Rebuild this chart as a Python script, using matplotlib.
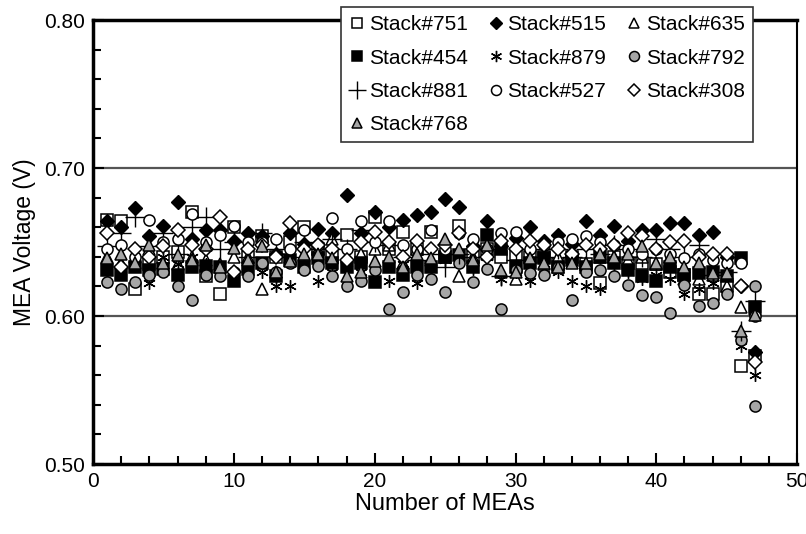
import numpy as np
import matplotlib
matplotlib.use('Agg')
import matplotlib.pyplot as plt
from matplotlib.ticker import MultipleLocator, FormatStrFormatter

plt.rcParams['font.family'] = ['Liberation Sans', 'DejaVu Sans']

# MEA number along the stack
mea = list(range(1, 48))

# cell voltages (V)
v751 = [0.665, 0.664, 0.618, 0.635, 0.640, 0.643, 0.670, 0.627, 0.615, 0.660,
        0.640, 0.654, 0.640, 0.650, 0.660, 0.645, 0.640, 0.655, 0.640, 0.667,
        0.645, 0.657, 0.645, 0.657, 0.640, 0.661, 0.640, 0.645, 0.640, 0.642,
        0.640, 0.640, 0.635, 0.640, 0.635, 0.622, 0.640, 0.636, 0.636, 0.635,
        0.630, 0.628, 0.615, 0.615, 0.620, 0.566, 0.573]
v515 = [0.664, 0.660, 0.673, 0.654, 0.661, 0.677, 0.652, 0.658, 0.658, 0.651,
        0.656, 0.654, 0.642, 0.656, 0.649, 0.659, 0.656, 0.682, 0.656, 0.670,
        0.660, 0.665, 0.668, 0.670, 0.679, 0.674, 0.647, 0.664, 0.647, 0.653,
        0.660, 0.651, 0.655, 0.649, 0.664, 0.655, 0.661, 0.651, 0.658, 0.658,
        0.663, 0.663, 0.655, 0.657, 0.640, 0.620, 0.576]
v635 = [0.640, 0.636, 0.640, 0.645, 0.636, 0.635, 0.640, 0.638, 0.635, 0.640,
        0.640, 0.618, 0.630, 0.640, 0.641, 0.645, 0.652, 0.640, 0.642, 0.645,
        0.648, 0.636, 0.645, 0.638, 0.645, 0.627, 0.640, 0.642, 0.630, 0.625,
        0.640, 0.635, 0.640, 0.640, 0.635, 0.640, 0.640, 0.638, 0.640, 0.635,
        0.640, 0.625, 0.625, 0.628, 0.620, 0.606, 0.605]
v454 = [0.631, 0.628, 0.633, 0.631, 0.632, 0.628, 0.633, 0.634, 0.633, 0.624,
        0.632, 0.636, 0.627, 0.638, 0.633, 0.639, 0.636, 0.633, 0.636, 0.623,
        0.633, 0.628, 0.633, 0.633, 0.640, 0.641, 0.633, 0.655, 0.645, 0.633,
        0.636, 0.639, 0.633, 0.638, 0.633, 0.640, 0.636, 0.631, 0.627, 0.624,
        0.633, 0.628, 0.629, 0.630, 0.627, 0.639, 0.606]
v879 = [0.630, 0.632, 0.635, 0.622, 0.640, 0.635, 0.640, 0.635, 0.632, 0.630,
        0.635, 0.630, 0.620, 0.620, 0.635, 0.624, 0.630, 0.636, 0.630, 0.632,
        0.624, 0.635, 0.622, 0.632, 0.638, 0.640, 0.632, 0.640, 0.625, 0.630,
        0.624, 0.632, 0.630, 0.624, 0.620, 0.618, 0.635, 0.630, 0.625, 0.628,
        0.625, 0.615, 0.618, 0.622, 0.628, 0.580, 0.560]
v792 = [0.623, 0.618, 0.623, 0.628, 0.630, 0.620, 0.611, 0.628, 0.627, 0.630,
        0.627, 0.636, 0.630, 0.636, 0.631, 0.634, 0.627, 0.620, 0.624, 0.631,
        0.605, 0.616, 0.628, 0.625, 0.616, 0.636, 0.623, 0.632, 0.605, 0.631,
        0.629, 0.628, 0.633, 0.611, 0.630, 0.631, 0.627, 0.621, 0.614, 0.613,
        0.602, 0.621, 0.607, 0.609, 0.615, 0.584, 0.539, 0.620]
mea792 = mea + [47]
v881 = [0.647, 0.656, 0.667, 0.647, 0.656, 0.642, 0.660, 0.667, 0.645, 0.650,
        0.640, 0.656, 0.645, 0.640, 0.650, 0.645, 0.652, 0.645, 0.658, 0.650,
        0.648, 0.640, 0.638, 0.642, 0.633, 0.642, 0.640, 0.645, 0.627, 0.638,
        0.645, 0.640, 0.645, 0.640, 0.645, 0.642, 0.648, 0.645, 0.640, 0.652,
        0.645, 0.640, 0.648, 0.628, 0.630, 0.590, 0.610]
v527 = [0.645, 0.648, 0.640, 0.665, 0.650, 0.652, 0.669, 0.650, 0.655, 0.661,
        0.650, 0.650, 0.652, 0.645, 0.658, 0.648, 0.666, 0.645, 0.664, 0.650,
        0.664, 0.648, 0.645, 0.658, 0.645, 0.656, 0.652, 0.645, 0.656, 0.657,
        0.645, 0.648, 0.650, 0.652, 0.654, 0.650, 0.648, 0.645, 0.642, 0.645,
        0.642, 0.639, 0.642, 0.638, 0.636, 0.636, 0.600]
v308 = [0.656, 0.633, 0.645, 0.640, 0.647, 0.658, 0.648, 0.645, 0.667, 0.630,
        0.645, 0.648, 0.640, 0.663, 0.645, 0.648, 0.645, 0.638, 0.650, 0.657,
        0.650, 0.640, 0.651, 0.645, 0.648, 0.656, 0.645, 0.640, 0.651, 0.645,
        0.651, 0.648, 0.645, 0.642, 0.648, 0.645, 0.648, 0.656, 0.654, 0.645,
        0.650, 0.651, 0.640, 0.642, 0.642, 0.620, 0.569]
v768 = [0.639, 0.642, 0.636, 0.648, 0.636, 0.641, 0.638, 0.648, 0.633, 0.646,
        0.638, 0.647, 0.630, 0.637, 0.642, 0.642, 0.639, 0.627, 0.630, 0.637,
        0.640, 0.633, 0.642, 0.639, 0.652, 0.645, 0.638, 0.648, 0.631, 0.630,
        0.639, 0.636, 0.633, 0.636, 0.636, 0.642, 0.640, 0.642, 0.647, 0.636,
        0.640, 0.633, 0.636, 0.629, 0.629, 0.590, 0.601]

gray = '#a6a6a6'
fig = plt.figure(figsize=(8.06, 5.34), dpi=100)
ax = fig.add_axes([0.1155, 0.131, 0.8735, 0.8315])

ax.axhline(0.60, color='#555555', lw=1.6, zorder=0)
ax.axhline(0.70, color='#555555', lw=1.6, zorder=0)

ms = 8
mew = 1.1
kw = dict(linestyle='none', markersize=ms, markeredgewidth=mew, markeredgecolor='black')
h = {}
h['751'], = ax.plot(mea, v751, marker='s', markerfacecolor='white', **kw)
h['515'], = ax.plot(mea, v515, marker='D', markerfacecolor='black', markersize=6.8,
                    linestyle='none', markeredgecolor='black')
h['635'], = ax.plot(mea, v635, marker='^', markerfacecolor='white', **kw)
h['454'], = ax.plot(mea, v454, marker='s', markerfacecolor='black', **kw)
h['879'], = ax.plot(mea, v879, marker=(6, 2, 0), color='black', linestyle='none',
                    markersize=ms + 1, markeredgewidth=1.0)
h['792'], = ax.plot(mea792, v792, marker='o', markerfacecolor=gray, **kw)
h['881'], = ax.plot(mea, v881, marker='+', color='black', linestyle='none',
                    markersize=ms + 6, markeredgewidth=1.0)
h['527'], = ax.plot(mea, v527, marker='o', markerfacecolor='white', **kw)
h['308'], = ax.plot(mea, v308, marker='D', markerfacecolor='white', markersize=6.8,
                    linestyle='none', markeredgecolor='black', markeredgewidth=mew)
h['768'], = ax.plot(mea, v768, marker='^', markerfacecolor=gray, **kw)

ax.set_xlim(0, 50)
ax.set_ylim(0.50, 0.80)
ax.xaxis.set_major_locator(MultipleLocator(10))
ax.xaxis.set_minor_locator(MultipleLocator(2))
ax.yaxis.set_major_locator(MultipleLocator(0.1))
ax.yaxis.set_minor_locator(MultipleLocator(0.02))
ax.yaxis.set_major_formatter(FormatStrFormatter('%.2f'))
ax.tick_params(which='both', direction='in', width=1.5, labelsize=15)
ax.tick_params(which='major', length=8, pad=6)
ax.tick_params(which='minor', length=6)
for s in ['left', 'bottom', 'top']:
    ax.spines[s].set_linewidth(2.5)
ax.spines['right'].set_linewidth(1.5)

ax.set_xlabel('Number of MEAs', fontsize=17, labelpad=1)
ax.set_ylabel('MEA Voltage (V)', fontsize=16.5, labelpad=6)

order = ['751', '454', '881', '768', '515', '879', '527', '635', '792', '308']
leg = ax.legend([h[k] for k in order], ['Stack#' + k for k in order], ncol=3,
                loc='upper right', bbox_to_anchor=(0.9375, 1.029), borderaxespad=0,
                fontsize=15, frameon=True, fancybox=False, edgecolor='#333333',
                framealpha=1, markerscale=0.9, handlelength=0.8,
                handletextpad=0.15, columnspacing=0.95, labelspacing=0.68,
                borderpad=0.4)
leg.get_frame().set_linewidth(1.2)
leg.set_zorder(5)

fig.savefig('out.png', dpi=100)
